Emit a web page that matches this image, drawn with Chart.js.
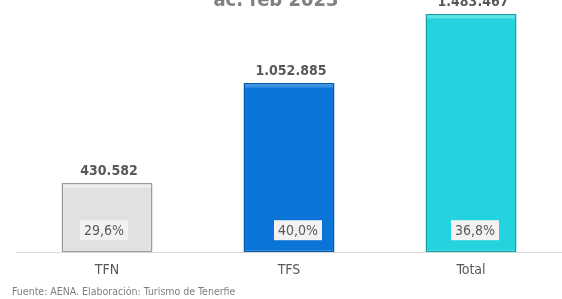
<!DOCTYPE html>
<html>
<head>
<meta charset="utf-8">
<script src="https://cdn.jsdelivr.net/npm/chart.js@4/dist/chart.umd.min.js"></script>
<style>
  html, body { margin: 0; padding: 0; background: #fff; }
  #wrap { width: 562px; height: 299px; }
</style>
</head>
<body>
<div id="wrap"><canvas id="chart" width="562" height="299"></canvas></div>
<script>
// data
const categories = ["TFN", "TFS", "Total"];
const passengers = [430582, 1052885, 1483467];
const shares = ["29,6%", "40,0%", "36,8%"];
const titleText = "ac. feb 2023";
const sourceText = "Fuente: AENA. Elaboración: Turismo de Tenerfie";

const fills = ["#dfe2df", "#0b74d7", "#24d3dd"];
const edges = ["#9a9e9a", "#0a5ca8", "#1a9ea6"];
const tops = ["#eef0ee", "#3b93e6", "#5fe4ea"];

const FONT = "'DejaVu Sans Condensed', 'DejaVu Sans', sans-serif";

const labelsPlugin = {
  id: "labelsPlugin",
  afterDatasetsDraw(chart) {
    const ctx = chart.ctx;
    const meta = chart.getDatasetMeta(0);
    const shift = [-3, 9, 4];
    ctx.save();
    meta.data.forEach((bar, i) => {
      const p = bar.getProps(["x", "y", "base", "width"], true);
      const left = p.x - p.width / 2;
      // bevel highlight on top edge
      ctx.fillStyle = tops[i];
      ctx.fillRect(left + 1.5, p.y + 1.5, p.width - 3, 3);

      // value above bar
      ctx.fillStyle = "#595959";
      ctx.font = "bold 14px " + FONT;
      ctx.textAlign = "center";
      ctx.textBaseline = "alphabetic";
      ctx.fillText(passengers[i].toLocaleString("de-DE"), p.x + 2, p.y - 8);

      // share box near bottom
      const cx = p.x + shift[i], cy = p.base - 22;
      ctx.fillStyle = "#f2f2f2";
      ctx.fillRect(cx - 24, cy - 10, 48, 20);
      ctx.fillStyle = "#595959";
      ctx.font = "14px " + FONT;
      ctx.textBaseline = "middle";
      ctx.fillText(shares[i], cx, cy + 1);
    });

    // title (cut off by the top edge)
    ctx.fillStyle = "#808080";
    ctx.font = "bold 20px " + FONT;
    ctx.textAlign = "center";
    ctx.textBaseline = "alphabetic";
    ctx.fillText(titleText, 276, 6);

    // source note
    ctx.fillStyle = "#7f7f7f";
    ctx.font = "10.5px " + FONT;
    ctx.textAlign = "left";
    ctx.textBaseline = "middle";
    ctx.fillText(sourceText, 12, 292);
    ctx.restore();
  }
};

new Chart("chart", {
  type: "bar",
  data: {
    labels: categories,
    datasets: [{
      data: passengers,
      backgroundColor: fills,
      borderColor: edges,
      borderWidth: 1.5,
      borderSkipped: false,
      barPercentage: 0.5,
      categoryPercentage: 1
    }]
  },
  options: {
    responsive: false,
    animation: false,
    layout: { padding: { left: 16, right: 0, top: 0, bottom: 10 } },
    plugins: { legend: { display: false }, tooltip: { enabled: false } },
    scales: {
      y: { display: false, min: 0, max: 1570000 },
      x: {
        grid: { display: false, drawTicks: false },
        border: { display: true, color: "#d9d9d9" },
        ticks: { color: "#595959", padding: 10, font: { family: FONT, size: 14 } }
      }
    }
  },
  plugins: [labelsPlugin]
});
</script>
</body>
</html>
